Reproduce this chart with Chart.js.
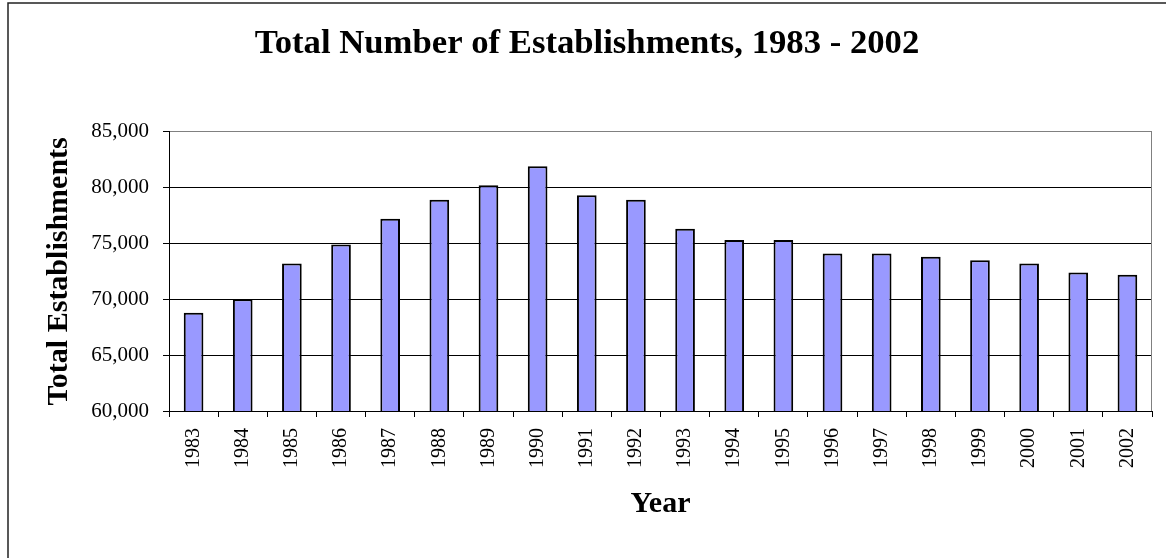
<!DOCTYPE html>
<html>
<head>
<meta charset="utf-8">
<script src="https://cdn.jsdelivr.net/npm/chart.js@4.4.1/dist/chart.umd.min.js"></script>
<style>
  html, body { margin: 0; padding: 0; background: #ffffff; }
  #wrap { width: 1166px; height: 558px; }
  canvas { display: block; }
</style>
</head>
<body>
<div id="wrap"><canvas id="c" width="1166" height="558"></canvas></div>
<script>
const years = ['1983','1984','1985','1986','1987','1988','1989','1990','1991','1992',
               '1993','1994','1995','1996','1997','1998','1999','2000','2001','2002'];
const establishments = [68800, 70000, 73200, 74900, 77200, 78900, 80200, 81900, 79300, 78900,
                        76300, 75300, 75300, 74100, 74100, 73800, 73500, 73200, 72400, 72200];
const yMin = 60000;
const yMax = 85000;
const yStep = 5000;
const chartTitle = 'Total Number of Establishments, 1983 - 2002';
const xTitle = 'Year';
const yTitle = 'Total Establishments';

const SERIF = "'Liberation Serif', 'Times New Roman', serif";

const frame = {
  id: 'frame',
  beforeDraw(chart) {
    const ctx = chart.ctx;
    ctx.save();
    ctx.fillStyle = '#ffffff';
    ctx.fillRect(0, 0, chart.width, chart.height);
    ctx.strokeStyle = '#222222';
    ctx.lineWidth = 1.5;
    ctx.strokeRect(8, 3, chart.width + 50, chart.height + 50);
    ctx.restore();
  },
  beforeDatasetsDraw(chart) {
    const ctx = chart.ctx;
    const a = chart.chartArea;
    ctx.save();
    ctx.strokeStyle = '#808080';
    ctx.lineWidth = 1;
    ctx.beginPath();
    ctx.moveTo(Math.round(a.right) - 0.5, a.top);
    ctx.lineTo(Math.round(a.right) - 0.5, a.bottom);
    ctx.stroke();
    ctx.restore();
  }
};

new Chart(document.getElementById('c'), {
  type: 'bar',
  data: {
    labels: years,
    datasets: [{
      data: establishments,
      backgroundColor: '#9999FF',
      borderColor: '#000000',
      borderWidth: 2,
      barPercentage: 0.4,
      categoryPercentage: 1.0
    }]
  },
  options: {
    responsive: false,
    devicePixelRatio: 1,
    animation: false,
    layout: { padding: { left: 22, right: 14, top: 0, bottom: 0 } },
    plugins: {
      legend: { display: false },
      tooltip: { enabled: false },
      title: {
        display: true,
        text: chartTitle,
        color: '#000000',
        font: { family: SERIF, size: 34.7, weight: 'bold' },
        padding: { top: 23, bottom: 67 }
      }
    },
    scales: {
      x: {
        afterFit(scale) { scale.height = 147; },
        grid: {
          display: true,
          drawOnChartArea: false,
          drawTicks: true,
          tickLength: 6,
          tickColor: '#000000',
          offset: true
        },
        border: { display: true, color: '#000000', width: 1 },
        ticks: {
          color: '#000000',
          font: { family: SERIF, size: 20 },
          minRotation: 90,
          maxRotation: 90,
          padding: 11,
          autoSkip: false
        },
        title: {
          display: true,
          text: xTitle,
          color: '#000000',
          font: { family: SERIF, size: 30, weight: 'bold' },
          padding: { top: 0, bottom: 36 }
        }
      },
      y: {
        min: yMin,
        max: yMax,
        afterFit(scale) { scale.width = 147; },
        grid: {
          color(ctx) { return ctx.tick && ctx.tick.value === yMax ? '#808080' : '#000000'; },
          lineWidth: 1,
          drawTicks: true,
          tickLength: 6,
          tickColor: '#000000'
        },
        border: { display: true, color: '#000000', width: 1 },
        ticks: {
          stepSize: yStep,
          color: '#000000',
          font: { family: SERIF, size: 21 },
          padding: 14,
          callback(v) { return Number(v).toLocaleString('en-US'); }
        },
        title: {
          display: true,
          text: yTitle,
          color: '#000000',
          font: { family: SERIF, size: 30, weight: 'bold' },
          padding: { top: 19, bottom: 0 }
        }
      }
    }
  },
  plugins: [frame]
});
</script>
</body>
</html>
